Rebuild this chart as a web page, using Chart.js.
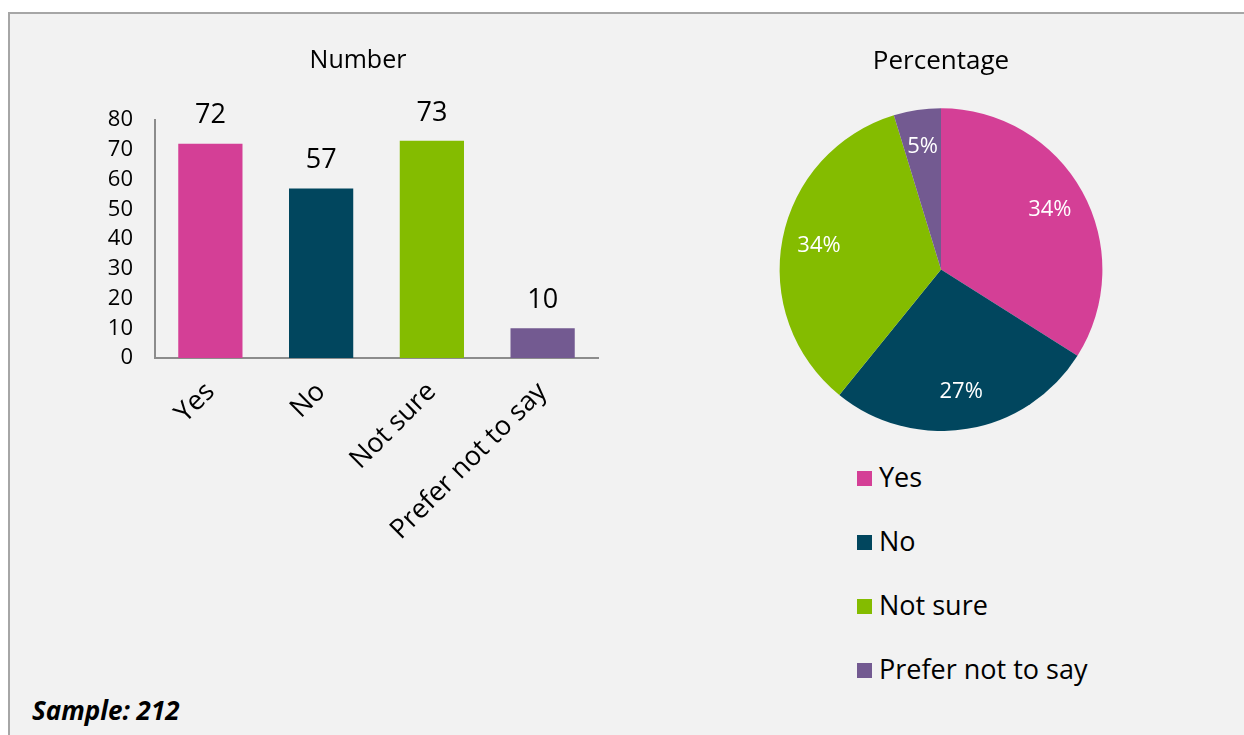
<!DOCTYPE html>
<html>
<head>
<meta charset="utf-8">
<script src="https://cdn.jsdelivr.net/npm/chart.js@4/dist/chart.umd.min.js"></script>
<style>
  html, body { margin: 0; padding: 0; background: #ffffff; }
  body { width: 1244px; height: 735px; position: relative; overflow: hidden; font-family: "Open Sans", "Noto Sans", sans-serif; }
  #frame { position: absolute; left: 8px; top: 12px; width: 1240px; height: 730px; background: #f2f2f2; border-left: 2px solid #a6a6a6; border-top: 2px solid #a6a6a6; box-sizing: border-box; }
  #barWrap { position: absolute; left: 0; top: 0; width: 620px; height: 560px; }
  #barTitle { position: absolute; left: 258px; width: 200px; top: 41px; text-align: center; font-size: 25px; line-height: 34px; color: #000; }
  #pieWrap { position: absolute; left: 760px; top: 0; width: 362px; height: 431px; }
  #legend { position: absolute; left: 857px; top: 457px; margin: 0; padding: 0; list-style: none; }
  #legend li { height: 64px; display: flex; align-items: flex-start; font-size: 27px; color: #000; line-height: 40px; }
  #legend .sw { display: inline-block; width: 15px; height: 15px; margin-top: 14px; margin-right: 7px; }
  #sample { position: absolute; left: 32px; top: 692px; font-size: 26px; font-weight: bold; font-style: italic; color: #000; }
</style>
</head>
<body>
<div id="frame"></div>
<div id="barWrap"><canvas id="bar" width="620" height="560"></canvas></div>
<div id="barTitle"></div>
<div id="pieWrap"><canvas id="pie" width="362" height="431"></canvas></div>
<ul id="legend"></ul>
<div id="sample">Sample: 212</div>
<script>
const categories = ["Yes", "No", "Not sure", "Prefer not to say"];
const counts = [72, 57, 73, 10];
const colors = ["#d43f96", "#01465e", "#84bc00", "#735a91"];
const yTicks = [0, 10, 20, 30, 40, 50, 60, 70, 80];
const barTitle = "Number";
const pieTitle = "Percentage";

const FONT = '"Open Sans", "Noto Sans", sans-serif';

document.getElementById('barTitle').textContent = barTitle;

const barLabels = {
  id: 'barLabels',
  afterDatasetsDraw(chart) {
    const ctx = chart.ctx;
    const meta = chart.getDatasetMeta(0);
    ctx.save();
    ctx.font = '27px ' + FONT;
    ctx.fillStyle = '#000';
    ctx.textAlign = 'center';
    ctx.textBaseline = 'middle';
    meta.data.forEach((el, i) => {
      ctx.fillText(String(chart.data.datasets[0].data[i]), el.x, el.y - 28);
    });
    ctx.restore();
  }
};

new Chart(document.getElementById('bar'), {
  type: 'bar',
  data: {
    labels: categories,
    datasets: [{ data: counts, backgroundColor: colors, borderWidth: 0, barPercentage: 0.58, categoryPercentage: 1 }]
  },
  options: {
    responsive: false,
    animation: false,
    devicePixelRatio: 1,
    layout: { padding: { left: 0, right: 22, top: 120, bottom: 0 } },
    plugins: {
      legend: { display: false },
      tooltip: { enabled: false },
      title: { display: false }
    },
    scales: {
      x: {
        grid: { display: false, drawTicks: false },
        border: { display: true, color: '#8c8c8c', width: 2 },
        ticks: { color: '#000', font: { family: FONT, size: 27 }, minRotation: 45, maxRotation: 45, autoSkip: false, padding: 18 },
        afterFit(s) { s.height = 202; }
      },
      y: {
        min: 0, max: 80,
        afterBuildTicks(s) { s.ticks = yTicks.map(v => ({ value: v })); },
        grid: { display: false, drawTicks: false },
        border: { display: true, color: '#8c8c8c', width: 2 },
        ticks: { color: '#000', font: { family: FONT, size: 22 }, padding: 22 },
        afterFit(s) { s.width = 155; }
      }
    }
  },
  plugins: [barLabels]
});

const total = counts.reduce((a, b) => a + b, 0);
const pieLabels = {
  id: 'pieLabels',
  afterDatasetsDraw(chart) {
    const ctx = chart.ctx;
    const meta = chart.getDatasetMeta(0);
    ctx.save();
    ctx.font = '22px ' + FONT;
    ctx.fillStyle = '#ffffff';
    ctx.textAlign = 'center';
    ctx.textBaseline = 'middle';
    meta.data.forEach((arc, i) => {
      const mid = (arc.startAngle + arc.endAngle) / 2;
      const r = arc.outerRadius * 0.77;
      const x = arc.x + Math.cos(mid) * r;
      const y = arc.y + Math.sin(mid) * r;
      ctx.fillText(Math.round(counts[i] / total * 100) + '%', x, y);
    });
    ctx.restore();
  }
};

new Chart(document.getElementById('pie'), {
  type: 'pie',
  data: {
    labels: categories,
    datasets: [{ data: counts, backgroundColor: colors, borderWidth: 0 }]
  },
  options: {
    responsive: false,
    animation: false,
    devicePixelRatio: 1,
    layout: { padding: 0 },
    plugins: {
      legend: { display: false },
      tooltip: { enabled: false },
      title: { display: true, text: pieTitle, color: '#000', font: { family: FONT, size: 26, weight: 'normal' }, padding: { top: 46, bottom: 31 } }
    }
  },
  plugins: [pieLabels]
});

const legend = document.getElementById('legend');
categories.forEach((c, i) => {
  const li = document.createElement('li');
  const sw = document.createElement('span');
  sw.className = 'sw';
  sw.style.background = colors[i];
  li.appendChild(sw);
  li.appendChild(document.createTextNode(c));
  legend.appendChild(li);
});
</script>
</body>
</html>
